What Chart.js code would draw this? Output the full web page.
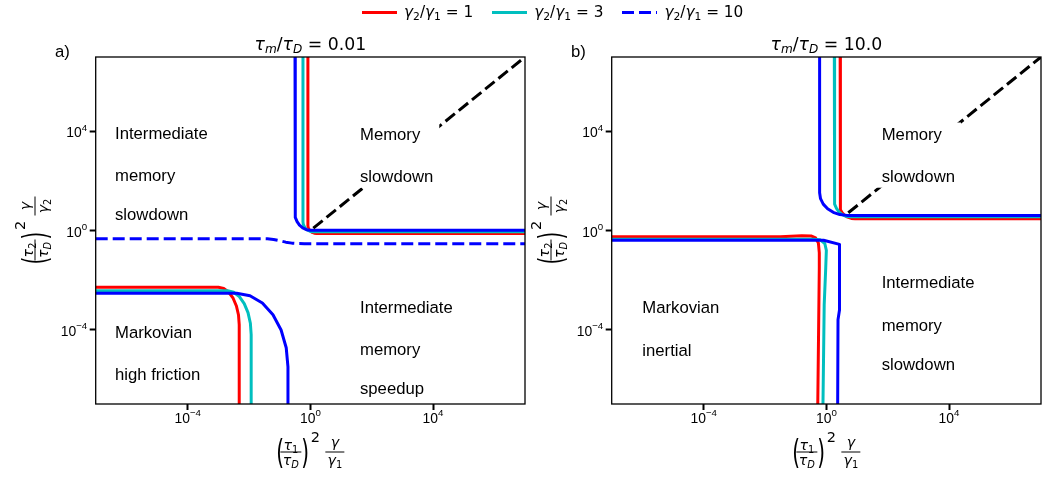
<!DOCTYPE html>
<html>
<head>
<meta charset="utf-8">
<script src="https://cdn.jsdelivr.net/npm/chart.js@4.4.0/dist/chart.umd.min.js"></script>
<style>
  html, body { margin: 0; padding: 0; background: #fff; }
  #wrap { position: relative; width: 1043px; height: 477px; overflow: hidden; }
  canvas { position: absolute; top: 0; }
  #chartA { left: 0; }
  #chartB { left: 520px; }
  #legend { position: absolute; left: 362px; top: 3px; height: 18px; display: flex; align-items: center;
            font-family: "DejaVu Sans", sans-serif; font-size: 15.3px; color: #000; white-space: nowrap; }
  #legend .swatch { width: 35px; height: 3px; margin-right: 7px; }
  #legend .label { margin-right: 19px; }
  #legend i { font-style: italic; }
  #legend sub { font-size: 70%; vertical-align: -3px; line-height: 0; }
</style>
</head>
<body>
<div id="wrap">
  <canvas id="chartA" width="540" height="477"></canvas>
  <canvas id="chartB" width="523" height="477"></canvas>
  <div id="legend"></div>
</div>
<script>
// both axes run over fourteen decades, labelled every fourth
const axisMin = 1e-7, axisMax = 1e7;
const tickValues = [1e-4, 1, 1e4];

// friction ratios gamma2/gamma1 and their colours
const ratios = [1, 3, 10];
const colors = ['#ff0000', '#00bfbf', '#0000ff'];
const memoryTimes = ['0.01', '10.0'];

// panel a, tau_m/tau_D = 0.01 : boundary curves as [x, y]
const aRedUpper = [[0.832, 1e7], [0.832, 1.585], [0.850, 1.309], [0.907, 1.096], [1.005, 0.942], [1.148, 0.838], [1.341, 0.778], [1.585, 0.759], [1e7, 0.759]];
const aCyanUpper = [[0.575, 1e7], [0.575, 2.239], [0.590, 1.762], [0.637, 1.413], [0.719, 1.167], [0.841, 1.009], [1.010, 0.920], [1.230, 0.891], [1e7, 0.891]];
const aBlueUpper = [[0.316, 1e7], [0.316, 5.13], [0.329, 3.38], [0.369, 2.29], [0.443, 1.64], [0.562, 1.27], [0.742, 1.081], [1.0, 1.023], [1e7, 1.023]];
const aRedLower = [[1e-7, 5.13e-3], [1e-3, 5.13e-3], [1.5e-3, 4.56e-3], [2.19e-3, 3.22e-3], [3.03e-3, 1.854e-3], [3.88e-3, 9.02e-4], [4.54e-3, 3.9e-4], [4.79e-3, 1.585e-4], [4.79e-3, 1e-7]];
const aCyanLower = [[1e-7, 3.72e-3], [2.0e-3, 3.72e-3], [3.16e-3, 3.24e-3], [4.84e-3, 2.15e-3], [6.98e-3, 1.127e-3], [9.27e-3, 4.84e-4], [0.01107, 1.811e-4], [0.01175, 6.31e-5], [0.01175, 1e-7]];
const aBlueLower = [[1e-7, 2.95e-3], [3.98e-3, 2.95e-3], [0.01076, 2.34e-3], [0.02723, 1.18e-3], [0.0604, 3.98e-4], [0.1112, 9.66e-5], [0.1633, 1.858e-5], [0.1862, 3.16e-6], [0.1862, 1e-7]];
const aBlueDashed = [[1e-7, 0.468], [0.0251, 0.468], [0.0398, 0.462], [0.0631, 0.437], [0.1, 0.389], [0.158, 0.339], [0.251, 0.309], [0.398, 0.296], [0.631, 0.295], [1e7, 0.295]];
const aDiagonal = [[1.25, 1.25], [1e7, 1e7]];

// panel b, tau_m/tau_D = 10
const bRedUpper = [[2.818, 1e7], [2.818, 9.33], [2.931, 6.918], [3.281, 5.248], [3.926, 4.13], [4.955, 3.443], [6.501, 3.069], [8.71, 2.951], [1e7, 2.951]];
const bCyanUpper = [[1.82, 1e7], [1.82, 17.38], [1.897, 11.51], [2.138, 7.85], [2.582, 5.65], [3.311, 4.385], [4.416, 3.75], [6.026, 3.548], [1e7, 3.548]];
const bBlueUpper = [[0.603, 1e7], [0.603, 33.1], [0.646, 19.2], [0.792, 11.6], [1.099, 7.53], [1.679, 5.40], [2.754, 4.375], [4.677, 4.074], [1e7, 4.074]];
const bRedLower = [[1e-7, 0.562], [0.0316, 0.562], [0.158, 0.617], [0.316, 0.603], [0.447, 0.501], [0.55, 0.316], [0.589, 0.126], [0.589, 0.0316], [0.525, 1e-7]];
const bCyanLower = [[1e-7, 0.447], [0.355, 0.447], [0.631, 0.42], [0.891, 0.3], [1.0, 0.158], [0.955, 0.0316], [0.851, 1e-3], [0.776, 1e-7]];
const bBlueLower = [[1e-7, 0.407], [0.813, 0.407], [2.69, 0.275], [2.69, 6.3e-4], [2.4, 2.5e-4], [2.34, 1e-7]];
const bDiagonal = [[5.2, 5.2], [1e7, 1e7]];

// region names, one entry per text line
const aRegions = [
  { lines: ['Intermediate', 'memory', 'slowdown'], x: 19.3, y: [82.3, 123.7, 163] },
  { lines: ['Memory', 'slowdown'], x: 264.3, y: [83, 124.7], boxed: true },
  { lines: ['Markovian', 'high friction'], x: 19.3, y: [281.3, 323] },
  { lines: ['Intermediate', 'memory', 'speedup'], x: 264.3, y: [256.3, 298, 337] }
];
const bRegions = [
  { lines: ['Memory', 'slowdown'], x: 270, y: [83, 124.7], boxed: true },
  { lines: ['Markovian', 'inertial'], x: 30.6, y: [256.3, 299] },
  { lines: ['Intermediate', 'memory', 'slowdown'], x: 270, y: [231.3, 274, 313] }
];

const TEXT = '"Liberation Sans", Arial, sans-serif';
const MATH = '"DejaVu Sans", sans-serif';

function font(size, italic, family) {
  return (italic ? 'italic ' : '') + size + 'px ' + (family || MATH);
}

// a run is a list of [text, size, dy, italic]
function runWidth(ctx, run) {
  let w = 0;
  for (const p of run) { ctx.font = font(p[1], p[3]); w += ctx.measureText(p[0]).width; }
  return w;
}
function drawRun(ctx, run, x, y) {
  for (const p of run) {
    ctx.font = font(p[1], p[3]);
    ctx.fillText(p[0], x, y + (p[2] || 0));
    x += ctx.measureText(p[0]).width;
  }
}

function stretched(ctx, ch, x) {
  ctx.save();
  ctx.translate(x, 11.5);
  ctx.scale(1, 1.7);
  ctx.font = font(20);
  ctx.fillText(ch, 0, 0);
  ctx.restore();
}

function fraction(ctx, x1, x2, num, den, numLift) {
  ctx.beginPath();
  ctx.moveTo(x1, 0);
  ctx.lineTo(x2, 0);
  ctx.lineWidth = 1;
  ctx.strokeStyle = '#000';
  ctx.stroke();
  const mid = (x1 + x2) / 2;
  drawRun(ctx, num, mid - runWidth(ctx, num) / 2, -numLift);
  drawRun(ctx, den, mid - runWidth(ctx, den) / 2, 13);
}

// (tau_k / tau_D)^2 gamma / gamma_k, drawn along +x with the fraction bars on y = 0
function ratioLabel(ctx, k) {
  const fs = 14.2, ss = 9.9;
  stretched(ctx, '(', 0);
  fraction(ctx, 4, 25, [['τ', fs, 0, true], [k, ss, 3]], [['τ', fs, 0, true], ['D', ss, 3, true]], 2.5);
  stretched(ctx, ')', 25);
  ctx.font = font(14.5);
  ctx.fillText('2', 34.5, -10);
  fraction(ctx, 49, 68, [['γ', fs, 0, true]], [['γ', fs, 0, true], [k, ss, 3]], 5);
}

function panelDecor(d) {
  return {
    id: 'panelDecor',
    afterDatasetsDraw(chart) {
      const ctx = chart.ctx, area = chart.chartArea;
      ctx.save();
      ctx.textBaseline = 'alphabetic';
      for (const r of d.regions) {
        ctx.font = font(16.7, false, TEXT);
        const x = area.left + r.x;
        if (r.boxed) {
          const w = Math.max(...r.lines.map(t => ctx.measureText(t).width));
          const top = area.top + r.y[0] - 17.5;
          const bottom = area.top + r.y[r.y.length - 1] + 6;
          ctx.fillStyle = '#fff';
          ctx.fillRect(x - 5.5, top, w + 11.5, bottom - top);
        }
        ctx.fillStyle = '#000';
        r.lines.forEach((t, i) => ctx.fillText(t, x, area.top + r.y[i]));
      }
      ctx.restore();
    },
    afterDraw(chart) {
      const ctx = chart.ctx, area = chart.chartArea;
      const xs = chart.scales.x, ys = chart.scales.y;
      ctx.save();
      ctx.textBaseline = 'alphabetic';
      ctx.fillStyle = '#000';

      // frame
      ctx.lineWidth = 1.3;
      ctx.strokeStyle = '#000';
      ctx.strokeRect(area.left, area.top, area.right - area.left, area.bottom - area.top);

      // decade labels 10^n
      for (const v of tickValues) {
        const e = Math.round(Math.log10(v));
        const sup = e < 0 ? '\u2212' + (-e) : String(e);
        ctx.font = font(13.9, false, TEXT);
        const w1 = ctx.measureText('10').width;
        ctx.font = font(9.7, false, TEXT);
        const w2 = ctx.measureText(sup).width;

        let x0 = xs.getPixelForValue(v) - (w1 + w2) / 2;
        ctx.font = font(13.9, false, TEXT);
        ctx.fillText('10', x0, area.bottom + 18.7);
        ctx.font = font(9.7, false, TEXT);
        ctx.fillText(sup, x0 + w1, area.bottom + 12.2);

        const py = ys.getPixelForValue(v);
        x0 = area.left - 8.5 - (w1 + w2);
        ctx.font = font(13.9, false, TEXT);
        ctx.fillText('10', x0, py + 6);
        ctx.font = font(9.7, false, TEXT);
        ctx.fillText(sup, x0 + w1, py - 0.5);
      }

      const cx = (area.left + area.right) / 2, cy = (area.top + area.bottom) / 2;

      // title
      const title = [['τ', 17.3, 0, true], ['m', 12.1, 3.6, true], ['/', 17.3, 0], ['τ', 17.3, 0, true],
                     ['D', 12.1, 3.6, true], [' = ' + d.time, 17.3, 0]];
      drawRun(ctx, title, cx - runWidth(ctx, title) / 2, 49.5);

      // panel letter
      ctx.font = font(16.7, false, TEXT);
      ctx.fillText(d.letter, area.left - 40.7, 56.7);

      // axis titles
      ctx.save();
      ctx.translate(cx - 34, area.bottom + 48);
      ratioLabel(ctx, '1');
      ctx.restore();

      ctx.save();
      ctx.translate(area.left - 60.7, cy);
      ctx.rotate(-Math.PI / 2);
      ctx.translate(-34, 0);
      ratioLabel(ctx, '2');
      ctx.restore();

      ctx.restore();
    }
  };
}

function series(points, color, order, dash) {
  return {
    data: points.map(([x, y]) => ({ x, y })),
    showLine: true,
    borderColor: color,
    borderWidth: 3,
    borderDash: dash || [],
    borderJoinStyle: 'round',
    pointRadius: 0,
    tension: 0,
    clip: 0,
    order: order
  };
}

function logAxis(position, size) {
  return {
    type: 'logarithmic',
    position: position,
    min: axisMin,
    max: axisMax,
    afterBuildTicks: s => { s.ticks = tickValues.map(v => ({ value: v })); },
    afterFit: s => { if (position === 'left') s.width = size; else s.height = size; },
    grid: { display: true, drawOnChartArea: false, drawTicks: true, tickLength: 6, tickWidth: 2, tickColor: '#000' },
    border: { display: false },
    ticks: { display: false }
  };
}

function makePanel(id, datasets, yWidth, padRight, decor) {
  return new Chart(document.getElementById(id), {
    type: 'scatter',
    data: { datasets: datasets },
    options: {
      responsive: false,
      animation: false,
      devicePixelRatio: 1,
      events: [],
      layout: { padding: { left: 0, top: 57, right: padRight, bottom: 43 } },
      scales: { x: logAxis('bottom', 30), y: logAxis('left', yWidth) },
      plugins: { legend: { display: false }, tooltip: { enabled: false } }
    },
    plugins: [panelDecor(decor)]
  });
}

const dashed = [12, 5];

makePanel('chartA', [
  series(aRedUpper, colors[0], 3), series(aRedLower, colors[0], 3),
  series(aCyanUpper, colors[1], 2), series(aCyanLower, colors[1], 2),
  series(aBlueUpper, colors[2], 1), series(aBlueLower, colors[2], 1),
  series(aBlueDashed, colors[2], 1, dashed),
  series(aDiagonal, '#000', 0, dashed)
], 95.7, 15, { letter: 'a)', time: memoryTimes[0], regions: aRegions });

makePanel('chartB', [
  series(bRedUpper, colors[0], 3), series(bRedLower, colors[0], 3),
  series(bCyanUpper, colors[1], 2), series(bCyanLower, colors[1], 2),
  series(bBlueUpper, colors[2], 1), series(bBlueLower, colors[2], 1),
  series(bDiagonal, '#000', 0, dashed)
], 91.7, 2, { letter: 'b)', time: memoryTimes[1], regions: bRegions });

// shared legend above both panels; the gamma2/gamma1 = 10 entry is dashed
const legend = document.getElementById('legend');
ratios.forEach((r, i) => {
  const sw = document.createElement('div');
  sw.className = 'swatch';
  sw.style.background = i === 2
    ? `repeating-linear-gradient(90deg, ${colors[i]} 0 12px, transparent 12px 17px)`
    : colors[i];
  const lab = document.createElement('div');
  lab.className = 'label';
  lab.innerHTML = `<i>γ</i><sub>2</sub>/<i>γ</i><sub>1</sub> = ${r}`;
  legend.appendChild(sw);
  legend.appendChild(lab);
});
</script>
</body>
</html>
